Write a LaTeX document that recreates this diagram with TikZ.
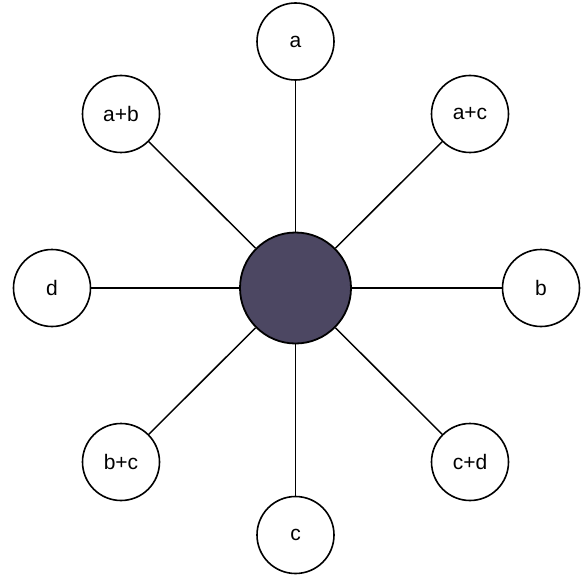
\documentclass[tikz,border=0pt]{standalone}
\usepackage{fontspec}
\setmainfont{Liberation Sans}
\definecolor{hubfill}{RGB}{76,71,98}
\begin{document}
\begin{tikzpicture}[x=1pt,y=-1pt,
  leaf/.style={circle,draw=black,line width=1.6pt,fill=white,minimum size=77pt,inner sep=0pt,font=\fontsize{21}{24}\selectfont},
  hub/.style={circle,draw=black,line width=1.8pt,fill=hubfill,minimum size=111pt,inner sep=0pt},
  spoke/.style={line width=1.5pt,draw=black}]
\useasboundingbox (0,0) rectangle (585,577);
\node[hub] (h) at (295.5,288) {};
\node[leaf] (a) at (295.5,41.5) {a};
\node[leaf] (ac) at (470,114) {a+c};
\node[leaf] (b) at (541,288) {b};
\node[leaf] (cd) at (470,462) {c+d};
\node[leaf] (c) at (295.5,535) {c};
\node[leaf] (bc) at (121,462) {b+c};
\node[leaf] (d) at (52,288) {d};
\node[leaf] (ab) at (121,114) {a+b};
\foreach \n in {a,ac,b,cd,c,bc,d,ab} \draw[spoke] (h) -- (\n);
\end{tikzpicture}
\end{document}
